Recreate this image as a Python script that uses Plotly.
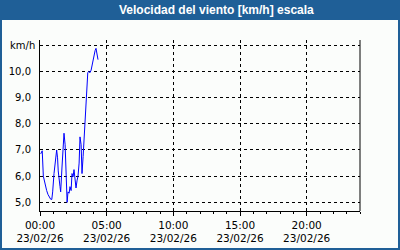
import plotly.graph_objects as go
import pandas as pd

# ---- data ----
minutes = [3, 8, 10, 15, 20, 25, 30, 36, 42, 48, 53, 57, 63, 69, 75, 79, 82, 90, 93, 99,
           104, 108, 113, 117, 122, 126, 131, 135, 140, 144, 149, 153, 158, 162, 167, 171,
           176, 180, 185, 189, 194, 198, 203, 207, 210, 215, 219, 225, 230, 235, 242, 248,
           252, 257, 261]
wind = [6.85, 6.95, 6.97, 6.0, 5.8, 5.6, 5.45, 5.3, 5.18, 5.12, 5.11, 5.4, 6.1, 6.5, 7.0,
        6.7, 6.2, 5.6, 5.4, 6.35, 7.1, 7.64, 7.2, 6.2, 5.0, 5.4, 5.35, 5.6, 5.45, 6.1, 5.98,
        6.25, 5.85, 5.55, 5.85, 6.0, 6.5, 7.5, 7.2, 6.1, 6.75, 7.4, 8.1, 8.8, 9.5, 9.95,
        10.0, 9.95, 10.05, 10.3, 10.5, 10.8, 10.88, 10.62, 10.45]
y_tickvals = [5, 6, 7, 8, 9, 10, 11]
y_ticktext = ["5,0", "6,0", "7,0", "8,0", "9,0", "10,0", ""]
title_text = "Velocidad del viento [km/h] escala"
unit_text = "km/h"
day = pd.Timestamp("2026-02-23 00:00")

times = [day + pd.Timedelta(minutes=m) for m in minutes]

# ---- layout geometry (pixels) ----
W, H = 400, 250
L, R, T, B = 40, 40, 40, 39
PW, PH = W - L - R, H - T - B
def px(X):
    return (X - L) / PW
def py(Y):
    return (H - B - Y) / PH

BLUE = "#1F5F97"
BG = "#FBFDFB"
FONT = "DejaVu Sans"

fig = go.Figure()
fig.add_trace(go.Scatter(x=times, y=wind, mode="lines",
                         line=dict(color="#0000FF", width=1), hoverinfo="skip"))

shapes = [
    dict(type="rect", xref="paper", yref="paper", x0=px(0), x1=px(400), y0=py(20), y1=py(0),
         fillcolor=BLUE, line=dict(width=0), layer="above"),
    dict(type="rect", xref="paper", yref="paper", x0=px(0), x1=px(2), y0=py(250), y1=py(0),
         fillcolor=BLUE, line=dict(width=0), layer="above"),
    dict(type="rect", xref="paper", yref="paper", x0=px(398), x1=px(400), y0=py(250), y1=py(0),
         fillcolor=BLUE, line=dict(width=0), layer="above"),
    dict(type="rect", xref="paper", yref="paper", x0=px(0), x1=px(400), y0=py(250), y1=py(248),
         fillcolor=BLUE, line=dict(width=0), layer="above"),
    dict(type="line", xref="paper", yref="paper", x0=1, x1=1, y0=0, y1=1,
         line=dict(color="black", width=1), layer="above"),
]

fig.update_layout(
    width=W, height=H,
    margin=dict(l=L, r=R, t=T, b=B, pad=0, autoexpand=False),
    paper_bgcolor=BG, plot_bgcolor=BG,
    showlegend=False,
    separators=",.",
    font=dict(family=FONT, size=10, color="black"),
    shapes=shapes,
    annotations=[
        dict(text="<b>" + title_text + "</b>", xref="paper", yref="paper",
             x=px(216), y=py(10), xanchor="center", yanchor="middle", showarrow=False,
             font=dict(family="Liberation Sans", size=12, color="white")),
        dict(text=unit_text, xref="paper", yref="paper", x=px(37), y=py(45),
             xanchor="right", yanchor="middle", showarrow=False,
             font=dict(family=FONT, size=10, color="black")),
    ],
)

fig.update_xaxes(
    type="date",
    range=[day, day + pd.Timedelta(hours=24)],
    tick0=day, dtick=5 * 3600 * 1000,
    tickformat="%H:%M<br>%d/%m/%y",
    ticks="outside", ticklen=4, tickcolor="black", tickwidth=1,
    minor=dict(dtick=3600 * 1000, ticks="outside", ticklen=2, tickcolor="black", showgrid=False),
    showline=True, linecolor="black", linewidth=1,
    showgrid=True, gridcolor="black", gridwidth=1, griddash="3px,3px",
    zeroline=False, fixedrange=True,
    tickfont=dict(family=FONT, size=10.5, color="black"),
)
fig.update_yaxes(
    range=[4.67, 11.2],
    tickvals=y_tickvals, ticktext=y_ticktext,
    ticks="", ticklabelstandoff=6,
    showline=True, linecolor="black", linewidth=1,
    showgrid=True, gridcolor="black", gridwidth=1, griddash="3px,3px",
    zeroline=False, fixedrange=True,
    tickfont=dict(family=FONT, size=10, color="black"),
)

fig.write_html("out.html", config=dict(displayModeBar=False))
